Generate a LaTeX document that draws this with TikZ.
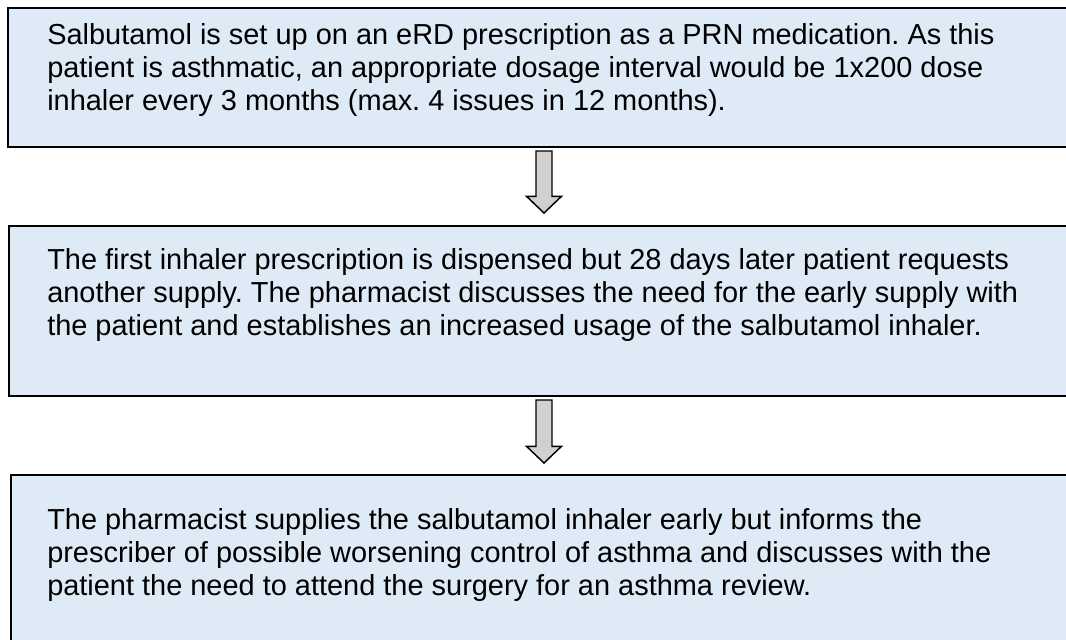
\documentclass[tikz,border=0pt]{standalone}
\usepackage{fontspec}
\setmainfont{Liberation Sans}
\usetikzlibrary{calc,positioning}
\frenchspacing

\definecolor{boxblue}{RGB}{222,234,246}
\definecolor{arrowgrey}{RGB}{208,208,208}

\begin{document}
\begin{tikzpicture}[
  x=0.75pt,y=-0.75pt,
  stepbox/.style={draw=black, line width=1.5pt, fill=boxblue, anchor=north west,
    inner sep=0pt, minimum width=801pt},
  steptext/.style={anchor=base west, align=left, inner sep=0pt,
    font=\fontsize{21.7pt}{24.75pt}\selectfont},
  blockarrow/.style={draw=black, line width=1.1pt, fill=arrowgrey, line join=miter,
    to path={let \p1=(\tikztostart), \p2=(\tikztotarget) in
      (\x1-6pt,\y1) -- (\x1+6pt,\y1) -- (\x1+6pt,\y2+12.5pt) -- (\x1+13.1pt,\y2+12.5pt)
      -- (\x1,\y2) -- (\x1-13.1pt,\y2+12.5pt) -- (\x1-6pt,\y2+12.5pt) -- cycle}}
]
\useasboundingbox (0,0) rectangle (1066,639);
\clip (0,0) rectangle (1066,639);

% the three steps
\node[stepbox, minimum height=104.25pt] (prn) at (7,7) {};
\node[stepbox, minimum height=127.5pt] (dispense) at (8,225) {};
\node[stepbox, minimum height=150pt] (supply) at (10,474) {};

% base of a multi-line node is its last line
\node[steptext] (prntext) at (47,110) {Salbutamol is set up on an eRD prescription as a PRN medication. As this\\
  patient is asthmatic, an appropriate dosage interval would be 1x200 dose\\
  inhaler every 3 months (max. 4 issues in 12 months).};
\node[steptext] (dispensetext) at (47,335) {The first inhaler prescription is dispensed but 28 days later patient requests\\
  another supply. The pharmacist discusses the need for the early supply with\\
  the patient and establishes an increased usage of the salbutamol inhaler.};
\node[steptext] (supplytext) at (47,595) {The pharmacist supplies the salbutamol inhaler early but informs the\\
  prescriber of possible worsening control of asthma and discusses with the\\
  patient the need to attend the surgery for an asthma review.};

% block arrows between the boxes
\coordinate (arrowx) at (544,0);
\draw[blockarrow] ([yshift=-2.25pt]arrowx |- prn.south) to ([yshift=9pt]arrowx |- dispense.north);
\draw[blockarrow] ([yshift=-2.25pt]arrowx |- dispense.south) to ([yshift=8.25pt]arrowx |- supply.north);
\end{tikzpicture}
\end{document}
